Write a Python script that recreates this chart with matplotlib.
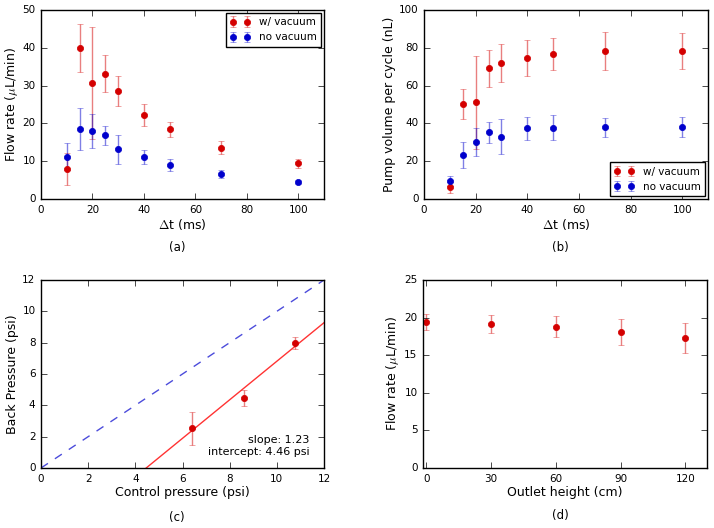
import numpy as np
import matplotlib
matplotlib.use('Agg')
import matplotlib.pyplot as plt

plt.style.use('classic')
plt.rcParams['font.family'] = 'DejaVu Sans'
plt.rcParams['xtick.labelsize'] = 7.5
plt.rcParams['ytick.labelsize'] = 7.5
plt.rcParams['axes.labelsize'] = 9
plt.rcParams['axes.labelpad'] = 2
plt.rcParams['savefig.facecolor'] = 'white'

RED = '#d40000'
BLUE = '#0000cc'

# (a) flow rate vs pulse width
dt = [10, 15, 20, 25, 30, 40, 50, 70, 100]
flow_vac = [7.9, 40.0, 30.6, 33.2, 28.6, 22.2, 18.4, 13.6, 9.4]
flow_vac_err = [4.3, 6.3, 14.8, 5.0, 4.0, 3.0, 2.0, 1.7, 1.1]
flow_novac = [11.2, 18.5, 18.1, 16.8, 13.1, 11.1, 9.1, 6.7, 4.6]
flow_novac_err = [3.5, 5.5, 4.5, 2.6, 3.8, 1.9, 1.6, 1.1, 0.5]

# (b) pump volume per cycle
vol_vac = [6.2, 50.1, 51.1, 69.1, 71.8, 74.8, 76.7, 78.5, 78.3]
vol_vac_err = [3.0, 8.0, 24.6, 10.0, 10.0, 9.5, 8.5, 10.0, 9.5]
vol_novac = [9.5, 23.3, 30.0, 35.3, 33.0, 37.4, 37.7, 37.9, 37.9]
vol_novac_err = [2.5, 6.8, 7.5, 5.5, 9.4, 6.0, 6.5, 5.0, 5.3]

# (c) back pressure vs control pressure
ctrl_p = [6.4, 8.6, 10.75]
back_p = [2.55, 4.45, 7.98]
back_p_err = [1.05, 0.5, 0.38]
fit_slope = 1.23
fit_intercept = 4.46

# (d) flow rate vs outlet height
height = [0, 30, 60, 90, 120]
flow_h = [19.4, 19.1, 18.8, 18.1, 17.3]
flow_h_err = [1.05, 1.2, 1.35, 1.75, 2.0]

fig = plt.figure(figsize=(7.14, 5.28), dpi=100)
W, H = 714.0, 528.0


def make_axes(left, top, right, bottom):
    return fig.add_axes([left / W, 1 - bottom / H, (right - left) / W, (bottom - top) / H])


def ebar(ax, x, y, err, color, label=None):
    _, caps, bars = ax.errorbar(x, y, yerr=err, fmt='o', color=color, mec=color,
                                ms=4.5, capsize=2.5, elinewidth=1, label=label)
    for b in bars:
        b.set_alpha(0.5)
    for c in caps:
        c.set_alpha(0.5)


ax1 = make_axes(41, 10, 324, 199)
ebar(ax1, dt, flow_vac, flow_vac_err, RED, 'w/ vacuum')
ebar(ax1, dt, flow_novac, flow_novac_err, BLUE, 'no vacuum')
ax1.set_xlim(0, 110)
ax1.set_ylim(0, 50)
ax1.set_xticks([0, 20, 40, 60, 80, 100])
ax1.set_xlabel(r'$\Delta$t (ms)')
ax1.set_ylabel(r'Flow rate ($\mu$L/min)')
ax1.legend(loc='upper right', fontsize=7.5, numpoints=2, borderaxespad=0.3)

ax2 = make_axes(424, 10, 708, 199)
ebar(ax2, dt, vol_vac, vol_vac_err, RED, 'w/ vacuum')
ebar(ax2, dt, vol_novac, vol_novac_err, BLUE, 'no vacuum')
ax2.set_xlim(0, 110)
ax2.set_ylim(0, 100)
ax2.set_xticks([0, 20, 40, 60, 80, 100])
ax2.set_xlabel(r'$\Delta$t (ms)')
ax2.set_ylabel('Pump volume per cycle (nL)')
ax2.legend(loc='lower right', fontsize=7.5, numpoints=2, borderaxespad=0.3)

ax3 = make_axes(41, 280, 324, 468)
xs = np.array([0, 12])
ax3.plot(xs, xs, '--', color=BLUE, alpha=0.7, lw=1)
xf = np.array([fit_intercept, 12])
ax3.plot(xf, fit_slope * (xf - fit_intercept), '-', color='r', alpha=0.8, lw=1)
ebar(ax3, ctrl_p, back_p, back_p_err, RED)
ax3.set_xlim(0, 12)
ax3.set_ylim(0, 12)
ax3.set_xticks(range(0, 13, 2))
ax3.set_yticks(range(0, 13, 2))
ax3.set_xlabel('Control pressure (psi)')
ax3.set_ylabel('Back Pressure (psi)')
ax3.text(11.4, 0.7, 'slope: %.2f\nintercept: %.2f psi' % (fit_slope, fit_intercept),
         ha='right', va='bottom', fontsize=8, multialignment='right')

ax4 = make_axes(423, 280, 707, 468)
ebar(ax4, height, flow_h, flow_h_err, RED)
ax4.set_xlim(-1.5, 130)
ax4.set_ylim(0, 25)
ax4.set_xticks([0, 30, 60, 90, 120])
ax4.set_xlabel('Outlet height (cm)')
ax4.set_ylabel(r'Flow rate ($\mu$L/min)')

for lab, px, py in [('(a)', 177, 247), ('(b)', 560, 247), ('(c)', 177, 517), ('(d)', 560, 515)]:
    fig.text(px / W, 1 - py / H, lab, ha='center', va='center', fontsize=8.5)

fig.savefig('out.png', dpi=100)
